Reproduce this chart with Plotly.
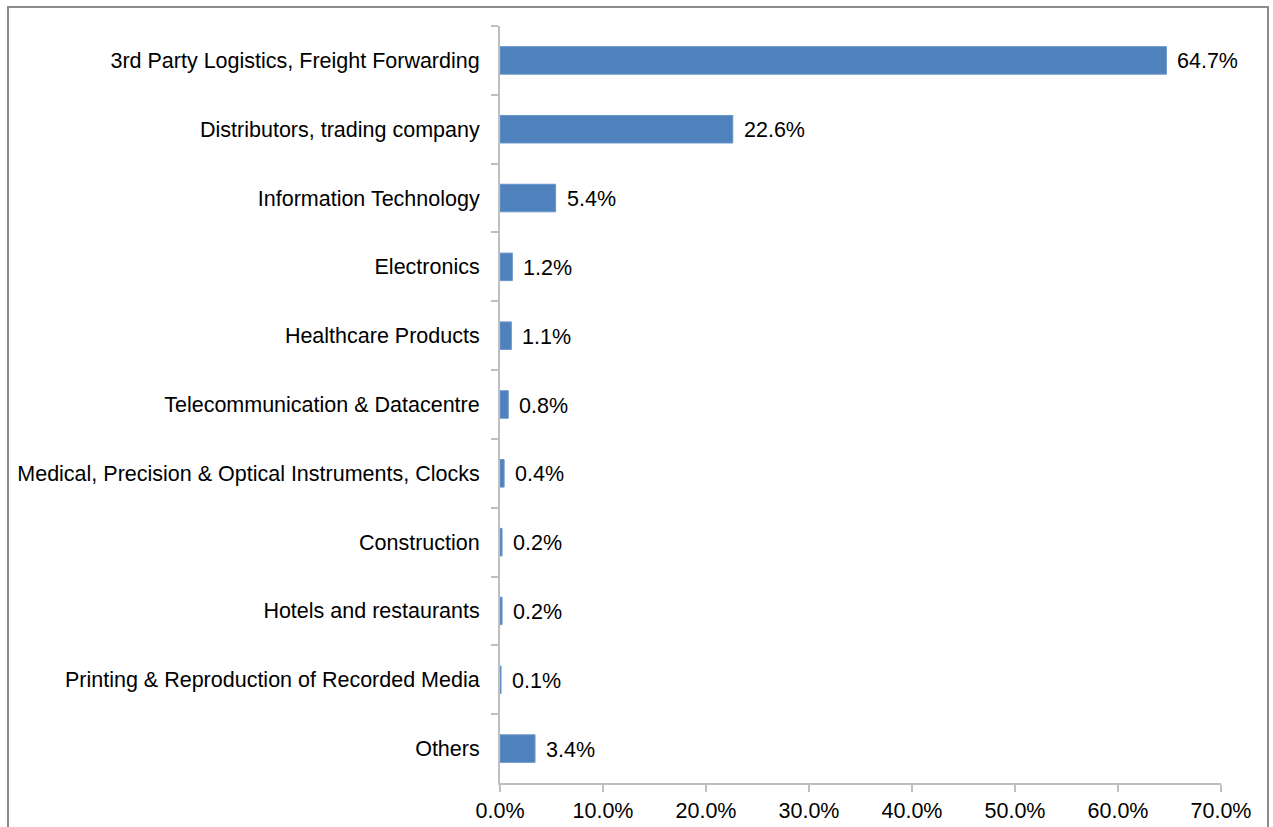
import plotly.graph_objects as go

# Industry share of respondents (percent)
categories = [
    "3rd Party Logistics, Freight Forwarding",
    "Distributors, trading company",
    "Information Technology",
    "Electronics",
    "Healthcare Products",
    "Telecommunication & Datacentre",
    "Medical, Precision & Optical Instruments, Clocks",
    "Construction",
    "Hotels and restaurants",
    "Printing & Reproduction of Recorded Media",
    "Others",
]
shares = [64.7, 22.6, 5.4, 1.2, 1.1, 0.8, 0.4, 0.2, 0.2, 0.1, 3.4]
x_ticks = [0, 10, 20, 30, 40, 50, 60, 70]

FONT = "Liberation Sans, Arial, sans-serif"
FSIZE = 21.5
BAR_COLOR = "#4F81BD"
AXIS_COLOR = "#BFBFBF"

fig = go.Figure(
    go.Bar(
        x=shares,
        y=categories,
        orientation="h",
        width=0.4,
        marker=dict(color=BAR_COLOR, line=dict(color="#6A95C9", width=1)),
        hoverinfo="skip",
    )
)

# value labels just to the right of each bar
for cat, val in zip(categories, shares):
    fig.add_annotation(
        x=val, y=cat, text=f"{val:.1f}%", showarrow=False,
        xanchor="left", xshift=9, yanchor="middle", yshift=-1,
        font=dict(family=FONT, size=FSIZE, color="#000000"),
    )

# outer chart frame
fig.add_shape(
    type="rect", xref="paper", yref="paper",
    x0=-492 / 721, x1=(1268 - 500) / 721,
    y0=-60 / 757, y1=(783 - 7) / 757,
    line=dict(color="#8C8C8C", width=2), fillcolor="rgba(0,0,0,0)",
    layer="below",
)

fig.update_layout(
    width=1273, height=827,
    margin=dict(l=500, r=52, t=26, b=44, autoexpand=False),
    paper_bgcolor="white", plot_bgcolor="white",
    showlegend=False,
    font=dict(family=FONT, size=FSIZE, color="#000000"),
    bargap=0.6,
)

fig.update_xaxes(
    range=[0, 70], tickvals=x_ticks,
    ticktext=[f"{v:.1f}%" for v in x_ticks],
    showgrid=False, zeroline=False, automargin=False,
    showline=True, linecolor=AXIS_COLOR, linewidth=2,
    ticks="outside", ticklen=7, tickcolor=AXIS_COLOR, tickwidth=1.5,
    ticklabelstandoff=0,
    tickfont=dict(family=FONT, size=FSIZE),
)
fig.update_yaxes(
    autorange="reversed", type="category",
    tickson="boundaries", automargin=False,
    showgrid=False, zeroline=False,
    showline=True, linecolor=AXIS_COLOR, linewidth=2,
    ticks="outside", ticklen=7, tickcolor=AXIS_COLOR, tickwidth=1.5,
    ticklabelstandoff=14,
    tickfont=dict(family=FONT, size=FSIZE),
)

fig.write_html("out.html")
